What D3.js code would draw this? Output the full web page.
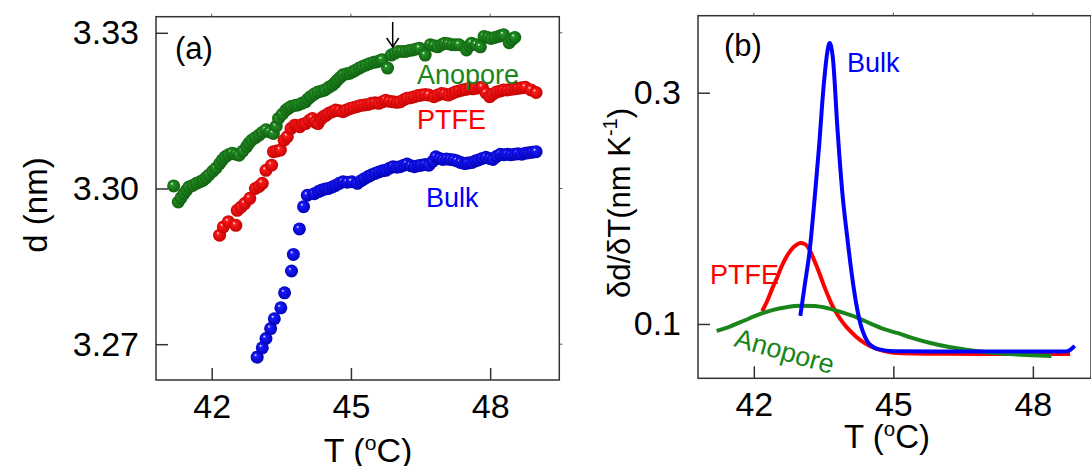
<!DOCTYPE html>
<html>
<head>
<meta charset="utf-8">
<script src="https://cdn.jsdelivr.net/npm/d3@7"></script>
<style>
  body { margin: 0; background: #fff; }
  svg { display: block; font-family: "Liberation Sans", Arial, sans-serif; }
</style>
</head>
<body>
<div id="chart"></div>
<script>
// panel (a): d spacing vs T, [T, d]
const bulkPts = [
  [42.98, 3.2675], [43.09, 3.2693], [43.17, 3.2711], [43.27, 3.2730], [43.35, 3.2749],
  [43.49, 3.2770], [43.57, 3.2799], [43.72, 3.2841], [43.76, 3.2873], [43.89, 3.2922],
  [43.98, 3.2965], [44.06, 3.2987], [44.21, 3.2990], [44.30, 3.2994], [44.37, 3.2997],
  [44.45, 3.2999], [44.52, 3.3000], [44.60, 3.3003], [44.67, 3.3006], [44.75, 3.3010],
  [44.83, 3.3013], [44.92, 3.3012], [45.02, 3.3013], [45.14, 3.3010], [45.22, 3.3015],
  [45.29, 3.3019], [45.37, 3.3023], [45.44, 3.3026], [45.52, 3.3029], [45.60, 3.3032],
  [45.68, 3.3034], [45.75, 3.3035], [45.83, 3.3039], [45.91, 3.3042], [45.99, 3.3041],
  [46.06, 3.3042], [46.14, 3.3045], [46.21, 3.3047], [46.29, 3.3044], [46.37, 3.3042],
  [46.45, 3.3044], [46.52, 3.3045], [46.60, 3.3046], [46.68, 3.3045], [46.76, 3.3052],
  [46.83, 3.3061], [46.91, 3.3058], [46.98, 3.3056], [47.06, 3.3057], [47.14, 3.3056],
  [47.22, 3.3055], [47.29, 3.3053], [47.37, 3.3050], [47.45, 3.3048], [47.52, 3.3049],
  [47.60, 3.3050], [47.68, 3.3053], [47.75, 3.3055], [47.83, 3.3058], [47.91, 3.3060],
  [47.99, 3.3058], [48.06, 3.3056], [48.14, 3.3062], [48.22, 3.3066], [48.30, 3.3065],
  [48.37, 3.3066], [48.45, 3.3065], [48.53, 3.3066], [48.60, 3.3067], [48.68, 3.3066],
  [48.76, 3.3068], [48.83, 3.3069], [48.91, 3.3070], [48.99, 3.3071]
];
const ptfePts = [
  [42.17, 3.2910], [42.25, 3.2926], [42.36, 3.2936], [42.52, 3.2929], [42.55, 3.2958],
  [42.63, 3.2964], [42.71, 3.2971], [42.82, 3.2981], [42.94, 3.3000], [43.02, 3.3004],
  [43.09, 3.3010], [43.17, 3.3035], [43.29, 3.3045], [43.33, 3.3071], [43.40, 3.3072],
  [43.48, 3.3074], [43.56, 3.3093], [43.63, 3.3100], [43.71, 3.3116], [43.79, 3.3122],
  [43.85, 3.3121], [43.90, 3.3119], [43.96, 3.3124], [44.02, 3.3125], [44.10, 3.3131],
  [44.17, 3.3135], [44.23, 3.3128], [44.29, 3.3125], [44.35, 3.3133], [44.40, 3.3138],
  [44.46, 3.3141], [44.52, 3.3145], [44.60, 3.3148], [44.67, 3.3151], [44.75, 3.3150],
  [44.83, 3.3148], [44.90, 3.3151], [44.98, 3.3154], [45.06, 3.3156], [45.14, 3.3158],
  [45.21, 3.3160], [45.29, 3.3161], [45.37, 3.3162], [45.44, 3.3164], [45.52, 3.3165],
  [45.60, 3.3164], [45.68, 3.3167], [45.75, 3.3170], [45.83, 3.3168], [45.91, 3.3167],
  [45.99, 3.3166], [46.06, 3.3167], [46.14, 3.3171], [46.21, 3.3174], [46.29, 3.3175],
  [46.37, 3.3177], [46.45, 3.3179], [46.52, 3.3180], [46.60, 3.3181], [46.68, 3.3180],
  [46.79, 3.3177], [46.87, 3.3180], [46.95, 3.3183], [47.02, 3.3182], [47.10, 3.3180],
  [47.18, 3.3183], [47.25, 3.3186], [47.33, 3.3188], [47.41, 3.3190], [47.48, 3.3191],
  [47.56, 3.3193], [47.62, 3.3192], [47.68, 3.3193], [47.76, 3.3194], [47.83, 3.3195],
  [47.91, 3.3184], [47.99, 3.3177], [48.06, 3.3182], [48.14, 3.3186], [48.22, 3.3188],
  [48.29, 3.3190], [48.37, 3.3190], [48.45, 3.3191], [48.53, 3.3192], [48.60, 3.3193],
  [48.68, 3.3194], [48.76, 3.3195], [48.88, 3.3190], [48.99, 3.3185]
];
const anoporePts = [
  [41.18, 3.3005], [41.28, 3.2974], [41.34, 3.2982], [41.40, 3.2990], [41.46, 3.2997],
  [41.51, 3.3003], [41.59, 3.3006], [41.67, 3.3010], [41.75, 3.3013], [41.82, 3.3016],
  [41.88, 3.3021], [41.94, 3.3026], [42.02, 3.3033], [42.09, 3.3039], [42.17, 3.3048],
  [42.23, 3.3055], [42.29, 3.3061], [42.36, 3.3065], [42.44, 3.3068], [42.52, 3.3066],
  [42.59, 3.3064], [42.67, 3.3072], [42.75, 3.3080], [42.80, 3.3087], [42.86, 3.3093],
  [42.94, 3.3098], [43.02, 3.3103], [43.09, 3.3108], [43.17, 3.3113], [43.25, 3.3109],
  [43.33, 3.3106], [43.39, 3.3120], [43.44, 3.3135], [43.52, 3.3143], [43.60, 3.3151],
  [43.66, 3.3155], [43.71, 3.3158], [43.79, 3.3160], [43.86, 3.3161], [43.94, 3.3164],
  [44.02, 3.3167], [44.07, 3.3172], [44.13, 3.3177], [44.21, 3.3182], [44.29, 3.3186],
  [44.37, 3.3188], [44.44, 3.3190], [44.52, 3.3195], [44.60, 3.3199], [44.66, 3.3204],
  [44.71, 3.3209], [44.77, 3.3214], [44.83, 3.3219], [44.91, 3.3221], [44.98, 3.3222],
  [45.04, 3.3225], [45.10, 3.3228], [45.18, 3.3232], [45.25, 3.3235], [45.33, 3.3238],
  [45.41, 3.3241], [45.49, 3.3243], [45.56, 3.3244], [45.62, 3.3246], [45.67, 3.3248],
  [45.79, 3.3232], [45.87, 3.3257], [45.95, 3.3261], [46.02, 3.3264], [46.10, 3.3264],
  [46.18, 3.3264], [46.26, 3.3266], [46.33, 3.3267], [46.41, 3.3269], [46.48, 3.3270],
  [46.60, 3.3257], [46.71, 3.3277], [46.79, 3.3275], [46.87, 3.3273], [46.95, 3.3277],
  [47.02, 3.3280], [47.10, 3.3279], [47.18, 3.3277], [47.26, 3.3277], [47.33, 3.3277],
  [47.49, 3.3267], [47.55, 3.3275], [47.60, 3.3280], [47.70, 3.3277], [47.79, 3.3273],
  [47.87, 3.3293], [47.95, 3.3291], [48.02, 3.3289], [48.10, 3.3291], [48.18, 3.3293],
  [48.24, 3.3295], [48.29, 3.3296], [48.41, 3.3281], [48.47, 3.3287], [48.53, 3.3291]
];

// panel (b): derivative curves, [T, dd/dT]
const bulkCurve = [
  [43.0, 0.107], [43.1, 0.135], [43.2, 0.163], [43.3, 0.205], [43.4, 0.252],
  [43.5, 0.305], [43.58, 0.335], [43.63, 0.343], [43.7, 0.330], [43.8, 0.268],
  [43.9, 0.215], [44.0, 0.178], [44.1, 0.145], [44.2, 0.118], [44.3, 0.099],
  [44.4, 0.088], [44.5, 0.082], [44.7, 0.078], [45.0, 0.0765], [46.0, 0.0762],
  [47.0, 0.0762], [48.0, 0.0762], [48.7, 0.0762], [48.8, 0.0775], [48.9, 0.081]
];
const ptfeCurve = [
  [42.18, 0.111], [42.3, 0.121], [42.4, 0.131], [42.5, 0.140], [42.6, 0.150],
  [42.7, 0.158], [42.8, 0.164], [42.9, 0.168], [43.0, 0.170], [43.1, 0.169],
  [43.2, 0.164], [43.3, 0.155], [43.4, 0.145], [43.5, 0.134], [43.6, 0.124],
  [43.7, 0.115], [43.8, 0.108], [43.9, 0.102], [44.0, 0.097], [44.2, 0.089],
  [44.4, 0.083], [44.6, 0.079], [44.8, 0.0765], [45.0, 0.0752], [46.0, 0.0742],
  [47.0, 0.0740], [48.0, 0.0740], [48.8, 0.0740]
];
const anoporeCurve = [
  [41.2, 0.094], [41.5, 0.098], [41.8, 0.103], [42.1, 0.108], [42.4, 0.112],
  [42.7, 0.1145], [43.0, 0.1157], [43.3, 0.1155], [43.6, 0.1135], [43.9, 0.110],
  [44.2, 0.106], [44.5, 0.1005], [44.8, 0.0955], [45.1, 0.092], [45.4, 0.088],
  [45.8, 0.0835], [46.2, 0.080], [46.6, 0.0775], [47.0, 0.0755], [47.5, 0.074],
  [48.0, 0.073], [48.4, 0.0723]
];

const xTicks = [42, 45, 48];
const yTicksA = [3.27, 3.30, 3.33];
const yTicksB = [0.1, 0.3];

const colors = { bulk: "#0000ff", ptfe: "#ff0000", anopore: "#1a851a" };
const W = 1091, H = 466;
const TICK = 12;
const TICK_FONT = 34;

const svg = d3.select("#chart").append("svg")
  .attr("width", W)
  .attr("height", H);

// shaded sphere markers
const defs = svg.append("defs");
function sphere(id, base, dark) {
  const g = defs.append("radialGradient")
    .attr("id", id)
    .attr("cx", "50%").attr("cy", "50%").attr("r", "55%")
    .attr("fx", "35%").attr("fy", "32%");
  g.append("stop").attr("offset", "0").attr("stop-color", "#ffffff");
  g.append("stop").attr("offset", "0.22").attr("stop-color", base);
  g.append("stop").attr("offset", "1").attr("stop-color", dark);
}
sphere("g-bulk", "#1a1aff", "#0000b0");
sphere("g-ptfe", "#ff1a1a", "#c00000");
sphere("g-anopore", "#239023", "#0f5e0f");

function frame(g, x, y, yTicks, fmt) {
  const [x0, x1] = x.range();
  const [y0, y1] = y.range();
  g.append("rect")
    .attr("x", x0).attr("y", y1)
    .attr("width", x1 - x0).attr("height", y0 - y1)
    .attr("fill", "none").attr("stroke", "#333").attr("stroke-width", 1.5);

  // bottom axis, ticks pointing into the plot
  const bx = g.append("g").attr("transform", `translate(0,${y0})`)
    .call(d3.axisBottom(x).tickValues(xTicks).tickSizeInner(-TICK).tickSizeOuter(0).tickPadding(14));
  bx.select("path.domain").remove();
  bx.selectAll("line").attr("stroke", "#333").attr("stroke-width", 1.5);
  bx.selectAll("text").attr("font-size", TICK_FONT).attr("fill", "#000").attr("font-family", "Liberation Sans, Arial");

  // left axis
  const ly = g.append("g").attr("transform", `translate(${x0},0)`)
    .call(d3.axisLeft(y).tickValues(yTicks).tickFormat(fmt).tickSizeInner(-TICK).tickSizeOuter(0).tickPadding(17));
  ly.select("path.domain").remove();
  ly.selectAll("line").attr("stroke", "#333").attr("stroke-width", 1.5);
  ly.selectAll("text").attr("font-size", TICK_FONT).attr("fill", "#000").attr("font-family", "Liberation Sans, Arial");

  // small mirrored ticks on top and right
  g.append("g").selectAll("line").data(xTicks).join("line")
    .attr("x1", d => x(d)).attr("x2", d => x(d))
    .attr("y1", y1).attr("y2", y1 - 3)
    .attr("stroke", "#555").attr("stroke-width", 1);
  g.append("g").selectAll("line").data(yTicks).join("line")
    .attr("x1", x1).attr("x2", x1 + 3)
    .attr("y1", d => y(d)).attr("y2", d => y(d))
    .attr("stroke", "#555").attr("stroke-width", 1);
}

function tLabel(g, cx, baseline, size) {
  const t = g.append("text")
    .attr("x", cx).attr("y", baseline)
    .attr("text-anchor", "middle")
    .attr("font-size", size);
  t.append("tspan").text("T (");
  t.append("tspan").attr("font-size", size * 0.62).attr("dy", -size * 0.36).text("o");
  t.append("tspan").attr("dy", size * 0.36).text("C)");
}

// ---------- panel (a) ----------
const xA = d3.scaleLinear().domain([40.8, 49.49]).range([156, 559.3]);
const yA = d3.scaleLinear().domain([3.2631, 3.3331]).range([380, 16.7]);
const gA = svg.append("g");
frame(gA, xA, yA, yTicksA, d3.format(".2f"));

const seriesA = [
  { key: "bulk", pts: bulkPts },
  { key: "ptfe", pts: ptfePts },
  { key: "anopore", pts: anoporePts }
];
seriesA.forEach(s => {
  gA.append("g").selectAll("circle").data(s.pts).join("circle")
    .attr("cx", d => xA(d[0]))
    .attr("cy", d => yA(d[1]))
    .attr("r", 6.5)
    .attr("fill", `url(#g-${s.key})`);
});

// arrow marking the anopore point
const arrowX = xA(45.9);
gA.append("line")
  .attr("x1", arrowX).attr("x2", arrowX)
  .attr("y1", 22).attr("y2", 46)
  .attr("stroke", "#000").attr("stroke-width", 1.5);
gA.append("path")
  .attr("d", `M${arrowX - 6},${38} L${arrowX},${47} L${arrowX + 6},${38}`)
  .attr("fill", "none").attr("stroke", "#000").attr("stroke-width", 1.5);

gA.append("text").attr("x", 175).attr("y", 59).attr("font-size", 31).text("(a)");
gA.append("text").attr("x", 417).attr("y", 84).attr("font-size", 27).attr("fill", colors.anopore).text("Anopore");
gA.append("text").attr("x", 417).attr("y", 129).attr("font-size", 27).attr("fill", colors.ptfe).text("PTFE");
gA.append("text").attr("x", 426).attr("y", 207).attr("font-size", 27).attr("fill", colors.bulk).text("Bulk");

gA.append("text")
  .attr("transform", "translate(47,205) rotate(-90)")
  .attr("text-anchor", "middle")
  .attr("font-size", 33)
  .text("d (nm)");
tLabel(gA, 368, 462, 34);

// ---------- panel (b) ----------
const xB = d3.scaleLinear().domain([40.8, 49.25]).range([698, 1091]);
const yB = d3.scaleLinear().domain([0.053, 0.3666]).range([378.3, 15.7]);
const gB = svg.append("g");
frame(gB, xB, yB, yTicksB, d3.format(".1f"));

const line = d3.line().x(d => xB(d[0])).y(d => yB(d[1])).curve(d3.curveMonotoneX);
[
  { key: "ptfe", pts: ptfeCurve },
  { key: "anopore", pts: anoporeCurve },
  { key: "bulk", pts: bulkCurve }
].forEach(s => {
  gB.append("path")
    .attr("d", line(s.pts))
    .attr("fill", "none")
    .attr("stroke", colors[s.key])
    .attr("stroke-width", 4)
    .attr("stroke-linejoin", "round");
});

gB.append("text").attr("x", 724).attr("y", 56).attr("font-size", 31).text("(b)");
gB.append("text").attr("x", 847).attr("y", 72).attr("font-size", 27).attr("fill", colors.bulk).text("Bulk");
gB.append("text").attr("x", 710).attr("y", 284).attr("font-size", 27).attr("fill", colors.ptfe).text("PTFE");
gB.append("text")
  .attr("transform", "translate(733,346) rotate(16)")
  .attr("font-size", 27).attr("fill", colors.anopore).text("Anopore");

const yTitle = gB.append("text")
  .attr("transform", "translate(630,203) rotate(-90)")
  .attr("text-anchor", "middle")
  .attr("font-size", 31);
yTitle.append("tspan").text("δd/δT(nm K");
yTitle.append("tspan").attr("font-size", 20).attr("dy", -13).text("-1");
yTitle.append("tspan").attr("dy", 13).text(")");
tLabel(gB, 887, 448, 33);
</script>
</body>
</html>
